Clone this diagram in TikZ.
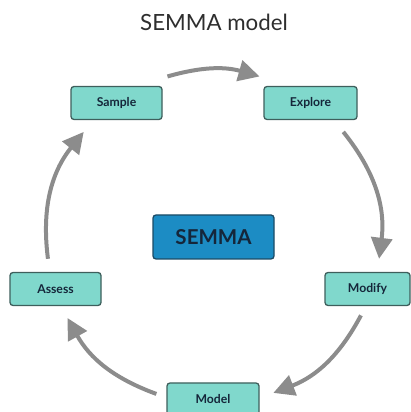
\documentclass[tikz,border=0pt]{standalone}
\usepackage{fontspec}
\setmainfont{Lato}
\usepackage{xcolor}
\usetikzlibrary{arrows.meta}
\usetikzlibrary{calc}
\definecolor{stagefill}{HTML}{80D8CC}
\definecolor{stageline}{HTML}{3E5F5C}
\definecolor{hubfill}{HTML}{1C8CC4}
\definecolor{hubline}{HTML}{1B4B66}
\definecolor{labeltext}{HTML}{15263A}
\definecolor{arcgray}{HTML}{8C8C8C}
\definecolor{titletext}{HTML}{2E2E2E}

\begin{document}
\begin{tikzpicture}[x=1pt,y=1pt,
    stage/.style={draw=stageline, fill=stagefill, line width=1.3pt, rounded corners=3pt,
      minimum width=91pt, minimum height=33pt, inner sep=0pt, text=labeltext,
      font=\bfseries\fontsize{12.2}{14}\selectfont},
    cycle/.style={color=arcgray, line width=4pt, -{Triangle[length=21pt,width=21pt]}}]
      \useasboundingbox (0,0) rectangle (411,412);
      \node[text=titletext,font=\fontsize{22.3}{26}\selectfont] (title) at (214,390) {SEMMA model};

      \node[draw=hubline, fill=hubfill, line width=1.3pt, rounded corners=3pt,
        minimum width=121pt, minimum height=44pt, inner sep=0pt, text=labeltext,
        font=\bfseries\fontsize{20.5}{24}\selectfont] (semma) at (213.5,175) {SEMMA};

      \node[stage] (sample) at (116.5,309) {Sample};
      \node[stage,minimum width=93pt] (explore) at (310.5,309) {Explore};
      \node[stage,minimum width=85pt] (modify) at (367.5,123) {Modify};
      \node[stage,minimum width=92pt] (model) at (213,12.5) {Model};
      \node[stage] (assess) at (55.5,123) {Assess};

      % arc ends on a circle round the hub
      \coordinate (a1) at ($(semma)+(106:167pt)$);
      \coordinate (b1) at ($(semma)+(74:167pt)$);
      \coordinate (a2) at ($(semma)+(39:167pt)$);
      \coordinate (b2) at ($(semma)+(-7.5:167pt)$);
      \coordinate (a3) at ($(semma)+(-28:167pt)$);
      \coordinate (b3) at ($(semma)+(-69:167pt)$);
      \coordinate (a4) at ($(semma)+(-110:167pt)$);
      \coordinate (b4) at ($(semma)+(-151:167pt)$);
      \coordinate (a5) at ($(semma)+(187.5:167pt)$);
      \coordinate (b5) at ($(semma)+(141:167pt)$);

      \path[cycle] (a1) edge[bend left=16] (b1);
      \path[cycle] (a2) edge[bend left=23] (b2);
      \path[cycle] (a3) edge[bend left=20.5] (b3);
      \path[cycle] (a4) edge[bend left=20.5] (b4);
      \path[cycle] (a5) edge[bend left=23] (b5);
    \end{tikzpicture}
\end{document}
